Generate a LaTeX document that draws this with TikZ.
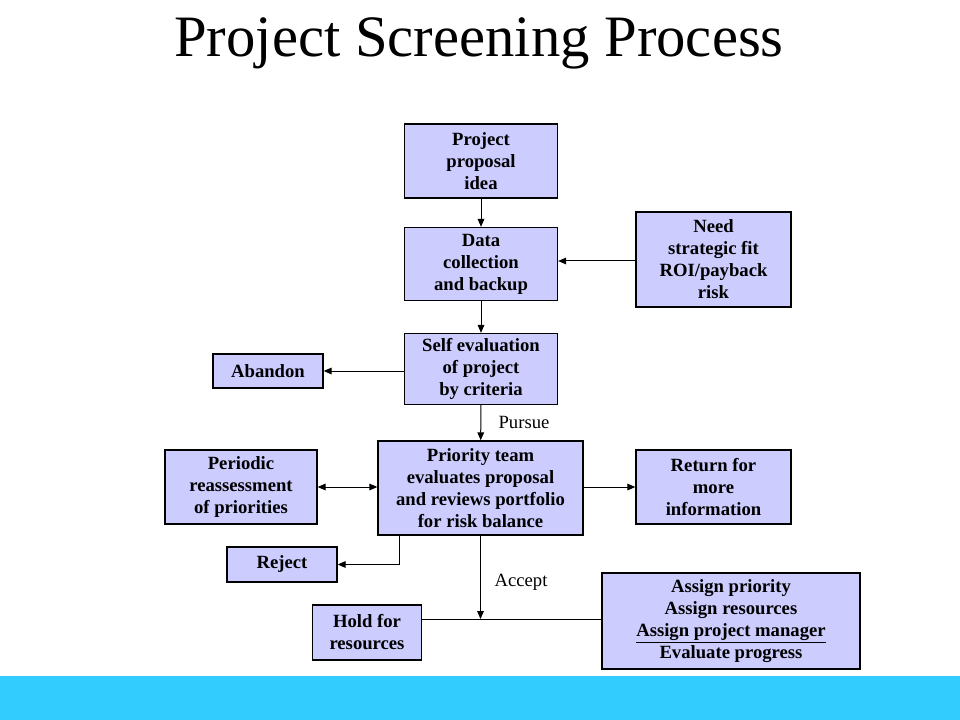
\documentclass[tikz,border=0pt]{standalone}
\usepackage{fontspec}
\setmainfont{Liberation Serif}
\usetikzlibrary{arrows.meta}

\definecolor{boxfill}{HTML}{CCCCFF}
\definecolor{barcyan}{HTML}{33CCFF}

\tikzset{
  stepbox/.style={draw,line width=1pt,fill=boxfill,inner sep=0pt,align=center,
    font=\fontsize{14}{16.5}\selectfont\bfseries},
  flow/.style={line width=0.75pt,-{Triangle[length=6pt,width=5pt]}},
}

\begin{document}
\begin{tikzpicture}[x=0.75pt,y=0.75pt,yscale=-1,xscale=1]
\useasboundingbox (0,0) rectangle (960,720);

%Shape: Rectangle [bottom bar]
\fill[barcyan] (0,676) rectangle (960,720);

% Text Node
\node [anchor=base,inner sep=0pt,font=\fontsize{44}{50}\selectfont] (title) at (479,57) {Project Screening Process};

%Shape: Rectangle
\node [stepbox,minimum width=114.75pt,minimum height=55.5pt] (idea) at (481,161) {Project\\proposal\\idea};
%Shape: Rectangle
\node [stepbox,minimum width=114.75pt,minimum height=54.75pt] (data) at (481,264) {Data\\collection\\and backup};
%Shape: Rectangle
\node [stepbox,minimum width=116.25pt,minimum height=71.25pt] (need) at (713.5,259.5) {Need\\strategic fit\\ROI/payback\\risk};
%Shape: Rectangle
\node [stepbox,minimum width=114.75pt,minimum height=53.25pt] (self) at (481,369) {Self evaluation\\of project\\by criteria};
%Shape: Rectangle
\node [stepbox,minimum width=82.5pt,minimum height=25.5pt] (abandon) at (268,371) {Abandon};
%Shape: Rectangle
\node [stepbox,minimum width=153.75pt,minimum height=70.5pt] (priority) at (480.5,488) {Priority team\\evaluates proposal\\and reviews portfolio\\for risk balance};
%Shape: Rectangle
\node [stepbox,minimum width=114pt,minimum height=55.5pt] (periodic) at (241,487) {Periodic\\reassessment\\of priorities};
%Shape: Rectangle
\node [stepbox,minimum width=116.25pt,minimum height=55.5pt] (return) at (713.5,487) {Return for\\more\\information};
%Shape: Rectangle
\node [stepbox,minimum width=82.5pt,minimum height=26.25pt] (reject) at (282,564.5) {Reject};
%Shape: Rectangle
\node [stepbox,minimum width=81.75pt,minimum height=41.25pt] (hold) at (367,632.5) {Hold for\\resources};
%Shape: Rectangle
\node [stepbox,minimum width=193.5pt,minimum height=72pt] (assign) at (731,621) {Assign priority\\Assign resources\\\underline{Assign project manager}\\Evaluate progress};

% Text Node
\node [inner sep=0pt,font=\fontsize{14}{16}\selectfont] (pursue) at (524,422) {Pursue};
% Text Node
\node [inner sep=0pt,font=\fontsize{14}{16}\selectfont] (accept) at (521,582) {Accept};

\coordinate (acc) at (480.5,619);
\coordinate (rej) at (399,535);

%Straight Lines
\draw [flow] (idea) -- (data);
%Straight Lines
\draw [flow] (need.west |- 0,261) -- (data.east |- 0,261);
%Straight Lines
\draw [flow] (data) -- (self);
%Straight Lines
\draw [flow] (self.west |- abandon) -- (abandon.east);
%Straight Lines
\draw [flow] (self) -- (priority);
%Straight Lines
\draw [flow,{Triangle[length=6pt,width=5pt]}-{Triangle[length=6pt,width=5pt]}] (periodic.east) -- (periodic.east -| priority.west);
%Straight Lines
\draw [flow] (priority.east |- return.west) -- (return.west);
%Straight Lines
\draw [flow] (rej) |- (reject.east);
%Straight Lines
\draw [flow] (priority) -- (acc);
%Straight Lines
\draw [line width=0.75pt] (hold.east |- acc) -- (assign.west |- acc);

\end{tikzpicture}
\end{document}
